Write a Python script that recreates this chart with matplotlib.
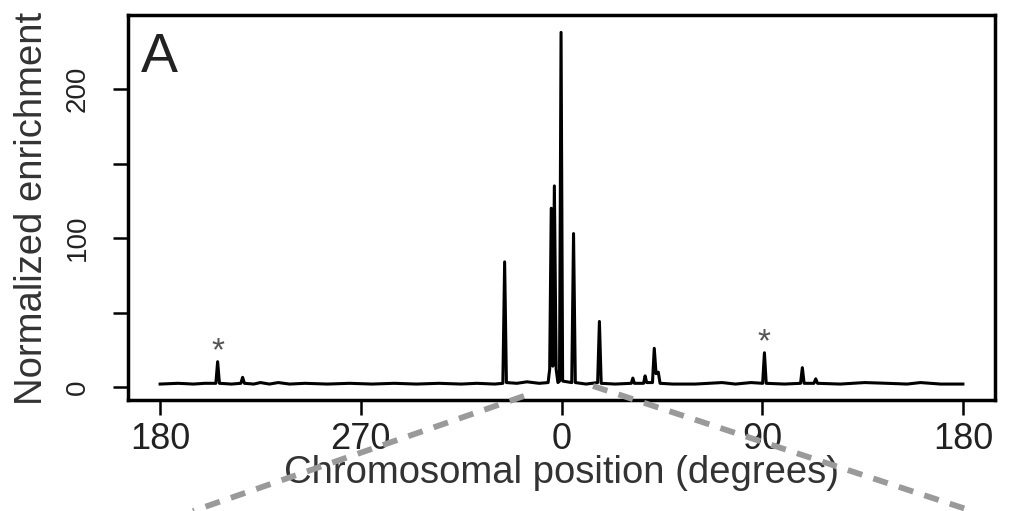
import matplotlib
matplotlib.use("Agg")
import matplotlib.pyplot as plt
from matplotlib.lines import Line2D

plt.rcParams['font.family'] = ['Liberation Sans', 'DejaVu Sans']

# ---- data ----
position = [-180, -172, -165, -160, -155, -154.2, -153.4, -148, -143.8, -143, -142.2,
            -138, -135, -131, -127, -122, -115, -105, -95, -85, -75, -65, -55, -45,
            -38, -30, -26.3, -25.5, -24.7, -20, -15.5, -10, -6, -5.3, -4.6, -3.9,
            -3.2, -2.4, -1.6, -0.9, -0.2, 0.5, 4.6, 5.4, 6.2, 11, 16.2, 17, 17.8,
            24, 31.3, 32, 32.7, 36.8, 37.5, 38.2, 40.8, 41.6, 42.4, 43.4, 44.2, 50,
            60, 72, 78, 85, 90.2, 91, 91.8, 100, 107.2, 108, 108.8, 113.2, 114,
            114.8, 125, 136, 146, 155, 161, 170, 180]
enrichment = [2, 2.5, 2, 2.5, 2.5, 17, 2.5, 2, 2.5, 6.5, 2.5,
              2, 3, 2, 3, 2, 2.5, 2, 2.5, 2, 2.5, 2, 2.5, 2,
              2.5, 2, 2.5, 84, 3, 2.5, 3.5, 2.5, 3, 12, 120, 14,
              135, 12, 3, 4, 238, 4, 3, 103, 3, 2, 3, 44, 2.5,
              2, 2.5, 6, 2.5, 2.5, 7.5, 3, 3, 26, 9, 10, 2.5, 2,
              2, 3, 2, 3, 2.5, 23, 2.5, 2, 2.5, 13, 2.5, 2.5, 5.5,
              2.5, 2, 3, 2.5, 2, 3, 2, 2]

xtick_pos = [-180, -90, 0, 90, 180]
xtick_labels = ['180', '270', '0', '90', '180']
ytick_pos = [0, 50, 100, 150, 200]
ytick_labels = ['0', '', '100', '', '200']
starred_peaks = [-154.2, 91]

W, H = 1009, 511
fig = plt.figure(figsize=(W / 100, H / 100), dpi=100)
ax = fig.add_axes([128 / W, 1 - 400 / H, (995 - 128) / W, (400 - 15) / H])

ax.plot(position, enrichment, color='black', lw=2.2)

ax.set_xlim(-194.4, 194.4)
ax.set_ylim(-8.7, 249.7)
ax.set_xticks(xtick_pos)
ax.set_xticklabels(xtick_labels)
ax.set_yticks(ytick_pos)
ax.set_yticklabels(ytick_labels, rotation=90, va='center')

for s in ax.spines.values():
    s.set_linewidth(2.5)
    s.set_color('black')
ax.tick_params(axis='both', width=1.8, length=11, color='black', labelcolor='#222222')
ax.tick_params(axis='x', labelsize=26, pad=5)
ax.tick_params(axis='y', labelsize=20, pad=16)

# asterisks above selected peaks
for p in starred_peaks:
    i = position.index(p)
    ax.text(p, enrichment[i] + 1, '*', ha='center', va='baseline',
            color='#555555', fontsize=24)

ax.text(0.015, 0.852, 'A', transform=ax.transAxes, ha='left', va='baseline',
        fontsize=40, color='#222222')

fig.text(0.5 * (128 + 995) / W, 1 - 483 / H, 'Chromosomal position (degrees)',
         ha='center', va='baseline', fontsize=27.5, color='#333333')
fig.text(42 / W, 1 - 208 / H, 'Normalized enrichment', rotation=90,
         rotation_mode='anchor', ha='center', va='baseline', fontsize=27.5,
         color='#333333')

# grey dashed zoom lines
dash = dict(color='#9a9a9a', lw=4.2, linestyle=(0, (2.6, 2.0)),
            dash_capstyle='butt', transform=fig.transFigure, zorder=10)
fig.add_artist(Line2D([524 / W, 193 / W], [1 - 396 / H, 0], **dash))
fig.add_artist(Line2D([593 / W, 972 / W], [1 - 386 / H, 0], **dash))

fig.savefig('out.png', dpi=100)
